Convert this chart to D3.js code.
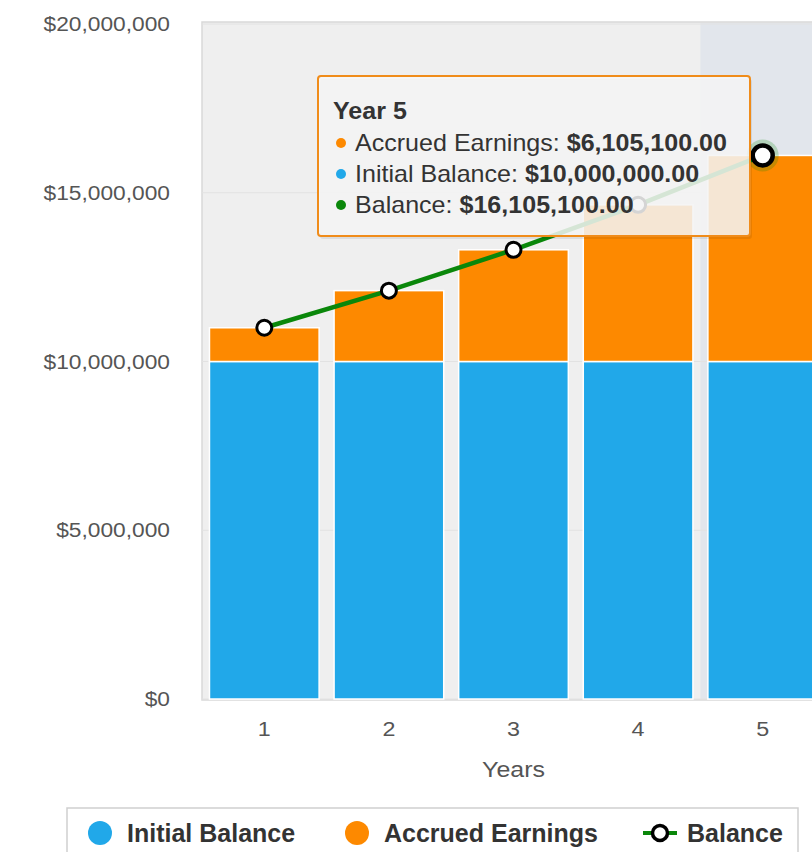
<!DOCTYPE html>
<html>
<head>
<meta charset="utf-8">
<script src="https://cdn.jsdelivr.net/npm/d3@7"></script>
<style>
  body { margin: 0; background: #fff; overflow: hidden; }
  svg { display: block; font-family: "Liberation Sans", Arial, sans-serif; }
</style>
</head>
<body>
<div id="root"></div>
<script>
// data
const years = [1, 2, 3, 4, 5];
const initialBalance = [10000000, 10000000, 10000000, 10000000, 10000000];
const accruedEarnings = [1000000, 2100000, 3310000, 4641000, 6105100];
const balance = [11000000, 12100000, 13310000, 14641000, 16105100];
const yTicks = [0, 5000000, 10000000, 15000000, 20000000];
const hoverYear = 5;

const W = 812, H = 852;
const plotLeft = 202, plotRight = 825, plotTop = 24, plotBottom = 699;
const stretch = 1.11; // text in the source is a bit wide

const blue = '#21a8e9', orange = '#fd8900', green = '#0a870a';

const svg = d3.select('#root').append('svg')
  .attr('width', W).attr('height', H);

const x = d3.scaleBand()
  .domain(years)
  .range([plotLeft, plotRight])
  .paddingInner(0.12)
  .paddingOuter(0.06);

const y = d3.scaleLinear()
  .domain([0, 20000000])
  .range([plotBottom, plotTop]);

const money = d3.format('$,');
const money2 = d3.format('$,.2f');

// plot background
svg.append('rect')
  .attr('x', plotLeft).attr('y', plotTop - 2)
  .attr('width', plotRight - plotLeft).attr('height', plotBottom - plotTop + 3)
  .attr('fill', '#efefef')
  .attr('stroke', '#d9d9d9').attr('stroke-width', 1.5);

// hover band
svg.append('rect')
  .attr('x', x(hoverYear) - x.step() * x.paddingInner() / 2)
  .attr('y', plotTop - 1)
  .attr('width', x.step())
  .attr('height', plotBottom - plotTop + 1)
  .attr('fill', '#e2e6ec');

// grid
svg.append('g')
  .selectAll('line')
  .data(yTicks)
  .join('line')
  .attr('x1', plotLeft).attr('x2', plotRight)
  .attr('y1', d => y(d)).attr('y2', d => y(d))
  .attr('stroke', '#e2e2e2').attr('stroke-width', 1);

// y axis labels
const yAxis = svg.append('g')
  .attr('transform', `translate(${plotLeft - 32},0)`)
  .call(d3.axisLeft(y).tickValues(yTicks).tickFormat(money).tickSize(0).tickPadding(0));
yAxis.select('.domain').remove();
yAxis.selectAll('text')
  .attr('x', 0)
  .attr('transform', `scale(${stretch},1)`)
  .attr('fill', '#555').style('font-size', '20.5px')
  .style('font-family', '"Liberation Sans", Arial, sans-serif');

// x axis labels
const xAxis = svg.append('g')
  .attr('transform', `translate(0,${plotBottom + 22})`)
  .call(d3.axisBottom(x).tickSize(0).tickPadding(0));
xAxis.select('.domain').remove();
xAxis.selectAll('text')
  .attr('transform', `scale(${stretch},1)`)
  .attr('fill', '#555').style('font-size', '21px')
  .style('font-family', '"Liberation Sans", Arial, sans-serif');

svg.append('g')
  .attr('transform', `translate(${x(3) + x.bandwidth() / 2},777) scale(${stretch},1)`)
  .append('text')
  .attr('text-anchor', 'middle')
  .attr('fill', '#555')
  .style('font-size', '22.5px')
  .text('Years');

// stacked bars
const bars = svg.append('g');
bars.selectAll('.initial')
  .data(years)
  .join('rect')
  .attr('class', 'initial')
  .attr('x', d => x(d))
  .attr('width', x.bandwidth())
  .attr('y', (d, i) => y(initialBalance[i]))
  .attr('height', (d, i) => y(0) - y(initialBalance[i]))
  .attr('fill', blue)
  .attr('stroke', '#fff').attr('stroke-width', 1.5);

bars.selectAll('.accrued')
  .data(years)
  .join('rect')
  .attr('class', 'accrued')
  .attr('x', d => x(d))
  .attr('width', x.bandwidth())
  .attr('y', (d, i) => y(initialBalance[i] + accruedEarnings[i]))
  .attr('height', (d, i) => y(initialBalance[i]) - y(initialBalance[i] + accruedEarnings[i]))
  .attr('fill', orange)
  .attr('stroke', '#fff').attr('stroke-width', 1.5);

// balance line
const line = d3.line()
  .x((d, i) => x(years[i]) + x.bandwidth() / 2)
  .y(d => y(d));

svg.append('path')
  .datum(balance)
  .attr('fill', 'none')
  .attr('stroke', green)
  .attr('stroke-width', 4.5)
  .attr('d', line);

// halo on hovered point
const hi = years.indexOf(hoverYear);
svg.append('circle')
  .attr('cx', x(hoverYear) + x.bandwidth() / 2)
  .attr('cy', y(balance[hi]))
  .attr('r', 16)
  .attr('fill', green).attr('opacity', 0.22);

svg.append('g')
  .selectAll('circle')
  .data(balance)
  .join('circle')
  .attr('cx', (d, i) => x(years[i]) + x.bandwidth() / 2)
  .attr('cy', d => y(d))
  .attr('r', (d, i) => years[i] === hoverYear ? 10 : 7.5)
  .attr('fill', '#fff')
  .attr('stroke', '#000')
  .attr('stroke-width', (d, i) => years[i] === hoverYear ? 4.5 : 3);

// tooltip
const tip = svg.append('g').attr('transform', 'translate(318,76)');
tip.append('rect')
  .attr('x', 2).attr('y', 3)
  .attr('width', 432).attr('height', 160).attr('rx', 3)
  .attr('fill', '#000').attr('opacity', 0.08);
tip.append('rect')
  .attr('width', 432).attr('height', 160).attr('rx', 3)
  .attr('fill', 'rgba(247,247,247,0.86)')
  .attr('stroke', '#f08c1a').attr('stroke-width', 2);

tip.append('g')
  .attr('transform', `translate(15,43) scale(1.09,1)`)
  .append('text')
  .attr('fill', '#333')
  .style('font-size', '23px').style('font-weight', 'bold')
  .text('Year ' + hoverYear);

const tipRows = [
  { color: orange, label: 'Accrued Earnings: ', value: accruedEarnings[hi] },
  { color: blue, label: 'Initial Balance: ', value: initialBalance[hi] },
  { color: green, label: 'Balance: ', value: balance[hi] }
];
tipRows.forEach((r, i) => {
  const ty = 75 + i * 31;
  tip.append('circle')
    .attr('cx', 23).attr('cy', ty - 8).attr('r', 5)
    .attr('fill', r.color);
  const t = tip.append('g')
    .attr('transform', `translate(37,${ty}) scale(1.09,1)`)
    .append('text')
    .attr('fill', '#333')
    .style('font-size', '23px');
  t.append('tspan').text(r.label);
  t.append('tspan').style('font-weight', 'bold').text(money2(r.value));
});

// legend
const lg = svg.append('g');
lg.append('rect')
  .attr('x', 67).attr('y', 808)
  .attr('width', 731).attr('height', 60)
  .attr('fill', '#fff')
  .attr('stroke', '#cfcfcf').attr('stroke-width', 1.5);

const legendItems = [
  { type: 'dot', color: blue, label: 'Initial Balance', x: 100 },
  { type: 'dot', color: orange, label: 'Accrued Earnings', x: 357 },
  { type: 'line', color: green, label: 'Balance', x: 660 }
];
legendItems.forEach(it => {
  const cy = 833;
  if (it.type === 'dot') {
    lg.append('circle').attr('cx', it.x).attr('cy', cy).attr('r', 12).attr('fill', it.color);
  } else {
    lg.append('line')
      .attr('x1', it.x - 17).attr('x2', it.x + 17)
      .attr('y1', cy).attr('y2', cy)
      .attr('stroke', it.color).attr('stroke-width', 4);
    lg.append('circle').attr('cx', it.x).attr('cy', cy).attr('r', 7.5)
      .attr('fill', '#fff').attr('stroke', '#000').attr('stroke-width', 3.5);
  }
  lg.append('text')
    .attr('x', it.x + 27).attr('y', cy + 9)
    .attr('fill', '#333')
    .style('font-size', '25px').style('font-weight', 'bold')
    .text(it.label);
});
</script>
</body>
</html>
